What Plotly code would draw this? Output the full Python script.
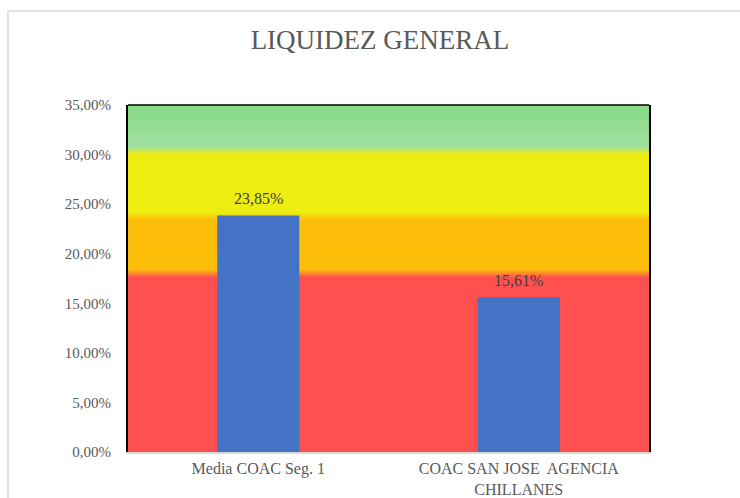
import plotly.graph_objects as go

# Data
categories = ["Media COAC Seg. 1", "COAC SAN JOSE  AGENCIA<br>CHILLANES"]
values = [0.2385, 0.1561]

# Background traffic-light bands (upper limits, fraction) and their colours
band_limits = [0.18, 0.238, 0.304, 0.35]
band_colors = ["#ff5050", "#fdbe0a", "#eded12", "#a0e0a0"]
band_top_color = "#85d885"

y_max = 0.35
serif = "Liberation Serif"

positions = list(range(len(categories)))
x_lo, x_hi = -0.5, len(categories) - 0.5

# Build a vertical colour scale with soft edges between the bands
blur = 0.004
scale = [[0.0, band_colors[0]]]
for i in range(len(band_limits) - 1):
    lim = band_limits[i]
    scale.append([(lim - blur) / y_max, band_colors[i]])
    scale.append([(lim + blur) / y_max, band_colors[i + 1]])
scale.append([1.0, band_top_color])

fig = go.Figure()

# Background bands: one filled rectangle with a vertical gradient (base axes)
fig.add_trace(go.Scatter(
    x=[x_lo, x_hi, x_hi, x_lo, x_lo],
    y=[0, 0, y_max, y_max, 0],
    xaxis="x", yaxis="y",
    mode="none",
    fill="toself",
    fillgradient=dict(type="vertical", colorscale=scale, start=0, stop=y_max),
    hoverinfo="skip",
    showlegend=False,
))

# Bars on the overlaying axes so they sit above the bands
fig.add_trace(go.Bar(
    x=positions,
    y=values,
    xaxis="x2", yaxis="y2",
    marker=dict(color="#4472c4", line=dict(width=0)),
    showlegend=False,
))

# Value labels above the bars (Spanish decimal comma)
for p, v in zip(positions, values):
    fig.add_annotation(
        x=p, y=v, xref="x2", yref="y2",
        text=f"{v * 100:.2f}%".replace(".", ","),
        showarrow=False, yanchor="middle", yshift=17,
        font=dict(family=serif, size=16, color="#404040"),
    )

hidden = dict(visible=False, showgrid=False, zeroline=False)

fig.update_layout(
    width=740,
    height=498,
    margin=dict(l=128, r=91, t=105, b=46),
    paper_bgcolor="white",
    plot_bgcolor="white",
    bargap=0.685,
    separators=",.",
    title=dict(
        text="LIQUIDEZ GENERAL",
        font=dict(family=serif, size=27, color="#595959"),
        x=0.5135, xanchor="center",
        y=1 - 40 / 498, yanchor="middle",
    ),
    xaxis=dict(range=[x_lo, x_hi], **hidden),
    yaxis=dict(range=[0, y_max], **hidden),
    xaxis2=dict(
        overlaying="x",
        range=[x_lo, x_hi],
        tickvals=positions,
        ticktext=categories,
        tickfont=dict(family=serif, size=16, color="#595959"),
        showgrid=False,
        zeroline=False,
        showline=True,
        linecolor="#d9d9d9",
        linewidth=1.5,
        ticks="",
        ticklabelstandoff=1,
        automargin=False,
    ),
    yaxis2=dict(
        overlaying="y",
        side="left",
        range=[0, y_max],
        dtick=0.05,
        tickformat=".2%",
        tickfont=dict(family=serif, size=15, color="#595959"),
        showgrid=False,
        zeroline=False,
        showline=True,
        linecolor="black",
        linewidth=2,
        mirror=True,
        ticks="",
        ticklabelstandoff=12,
        automargin=False,
    ),
    shapes=[
        # black top edge of the plot area
        dict(type="line", xref="paper", yref="paper", x0=0, x1=1, y0=1, y1=1,
             line=dict(color="black", width=1.5)),
        # light grey chart frame
        dict(type="rect", xref="paper", yref="paper",
             x0=-0.2303, x1=1.5, y0=-0.5, y1=1.2709,
             line=dict(color="#d9d9d9", width=1.5), layer="below"),
    ],
)

fig.write_html("out.html", config={"displayModeBar": False},
               post_script="document.body.style.margin='0';")
